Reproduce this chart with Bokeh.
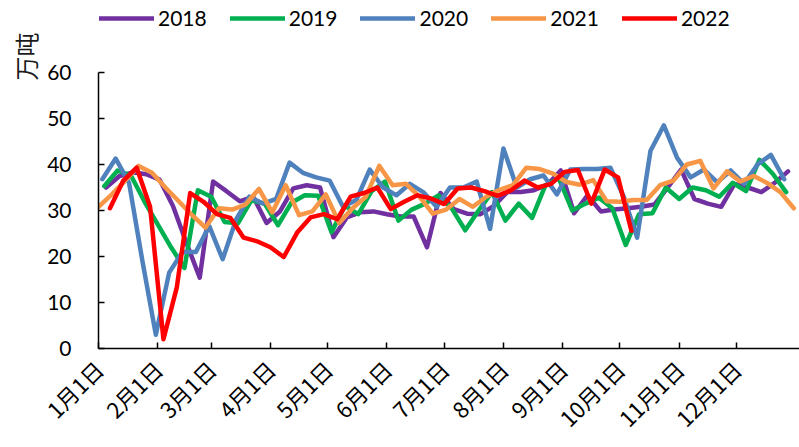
import math
from datetime import date
from bokeh.plotting import figure
from bokeh.models import Range1d, FixedTicker, Legend, LegendItem, Title
from bokeh.embed import file_html
from bokeh.resources import INLINE

# ---- data (weekly, 万吨) ----
years = ["2018", "2019", "2020", "2021", "2022"]
start_dates = ["2018-01-05", "2019-01-04", "2020-01-03", "2021-01-01", "2022-01-07"]
colors = ["#7030A0", "#00B050", "#4F81BD", "#F79646", "#FF0000"]

v2018 = [35, 37.5, 38.3, 37.9, 36.7, 31, 23, 15.4, 36.3, 34.2, 32, 33, 27.3, 29.8,
         34.8, 35.5, 35, 24.2, 28.5, 29.6, 29.8, 29.2, 28.7, 28.7, 22, 33.8, 30.3,
         29.3, 29.2, 31, 34, 34, 34.4, 35.6, 38.7, 29.4, 33.3, 29.8, 30.2, 30.5, 30.8,
         31.3, 35, 38.9, 32.5, 31.5, 30.8, 35.8, 35, 34, 36, 38.5]
v2019 = [35.3, 38.7, 37.6, 32, 27, 22, 17.5, 34.4, 33, 27.5, 27.2, 32.2, 31.5, 26.8,
         31.7, 33.3, 33.2, 25.3, 31, 29.2, 34.2, 36.3, 27.8, 30.2, 31.5, 33.3, 30.4,
         25.7, 30, 34, 27.8, 31.5, 28.4, 35.5, 37, 30, 31.5, 32.8, 30.5, 22.5, 29.2,
         29.4, 35, 32.5, 35, 34.4, 33, 36, 34.2, 41, 38, 34]
v2020 = [36.8, 41.3, 36, 19, 3, 16.5, 21, 21, 26.6, 19.4, 28, 33, 31.5, 32.5, 40.4,
         38.2, 37.2, 36.5, 30.8, 32.3, 38.9, 35, 33.3, 35.8, 34, 30.8, 35, 35, 36.3,
         26, 43.5, 35, 36.8, 37.6, 33.5, 38.9, 39, 39, 39.3, 33, 24.1, 43, 48.5, 41.4,
         37.2, 38.9, 36.1, 38.7, 35.8, 40, 42.1, 36.8]
v2021 = [30.8, 33.5, 36.5, 39.7, 38.2, 35, 32, 29, 26.3, 30.5, 30.2, 31.3, 34.7, 29.6,
         35.5, 29, 29.8, 33.5, 27.3, 30.5, 33, 39.7, 35.5, 35.8, 33, 29.3, 30.2, 32.5,
         30.8, 33, 34.5, 35.5, 39.3, 39, 38, 36.2, 35.6, 36.6, 32, 31.9, 32.3, 32.3,
         35.5, 36.5, 40, 40.8, 34.8, 38.5, 36.3, 37.5, 36, 34, 30.5]
v2022 = [30.5, 36.5, 39.3, 30.8, 2.0, 13.3, 33.8, 31.9, 29.2, 28.4, 24.1, 23.3, 22,
         19.9, 25.2, 28.5, 29.2, 28.1, 33, 33.8, 35, 30.3, 31.9, 33.3, 32.6, 31.4,
         34.8, 35, 34.2, 33.2, 34.4, 36.5, 35, 35.8, 38.4, 38.8, 31.5, 38.9, 37.2, 25.6]
series_values = [v2018, v2019, v2020, v2021, v2022]

month_ticks = [0, 31, 59, 90, 120, 151, 181, 212, 243, 273, 304, 334]  # day of year
month_labels = ["1月1日", "2月1日", "3月1日", "4月1日", "5月1日", "6月1日",
                "7月1日", "8月1日", "9月1日", "10月1日", "11月1日", "12月1日"]
y_ticks = [0, 10, 20, 30, 40, 50, 60]
y_unit = "万吨"

LATIN = "Lato"
CJK = "Noto Sans CJK SC"

# The frame reaches the top of the canvas so the legend (drawn inside it) stays
# visible; the y axis itself is bounded to 0..60.
FRAME_H = 348          # frame height in px (canvas minus the x-axis panel)
Y_MAX_AXIS = 60
Y_VIEW_TOP = Y_MAX_AXIS * FRAME_H / (FRAME_H - 72)

p = figure(width=799, height=447, output_backend="svg", toolbar_location=None,
           x_range=Range1d(0, 367), y_range=Range1d(0, Y_VIEW_TOP),
           min_border_left=98, min_border_right=0, min_border_top=0,
           min_border_bottom=91)
p.outline_line_color = None
p.xgrid.grid_line_color = None
p.ygrid.grid_line_color = None
p.background_fill_color = "white"
p.border_fill_color = "white"

renderers = []
for yr, sd, col, vals in zip(years, start_dates, colors, series_values):
    d = date.fromisoformat(sd)
    doy = (d - date(d.year, 1, 1)).days
    xs = [doy + 7 * i for i in range(len(vals))]
    r = p.line(xs, vals, line_color=col, line_width=4.5,
               line_join="round", line_cap="round")
    renderers.append((yr, r))

# axes
for ax in (p.xaxis[0], p.yaxis[0]):
    ax.axis_line_color = "black"
    ax.axis_line_width = 1.5
    ax.major_tick_line_color = "black"
    ax.major_tick_line_width = 1.5
    ax.major_tick_in = 6
    ax.major_tick_out = 0
    ax.minor_tick_line_color = None
    ax.major_label_text_color = "black"

p.xaxis.ticker = FixedTicker(ticks=month_ticks)
p.xaxis.major_label_overrides = {t: l for t, l in zip(month_ticks, month_labels)}
p.xaxis.major_label_orientation = math.pi / 4
p.xaxis.major_label_text_font = CJK
p.xaxis.major_label_text_font_size = "22px"
p.xaxis.major_label_standoff = 16

p.yaxis.ticker = FixedTicker(ticks=y_ticks)
p.yaxis.bounds = (0, Y_MAX_AXIS)
p.yaxis.major_label_text_font = LATIN
p.yaxis.major_label_text_font_size = "21px"
p.yaxis.major_label_standoff = 27

legend = Legend(items=[LegendItem(label=yr, renderers=[r]) for yr, r in renderers],
                orientation="horizontal", location=(1, FRAME_H - 30),
                glyph_width=55, glyph_height=20, label_height=20,
                label_standoff=4, spacing=23,
                padding=0, margin=0, label_text_font=LATIN,
                label_text_font_size="21px", label_text_color="black",
                background_fill_alpha=0, border_line_color=None)
p.add_layout(legend)

# unit label (rotated) near the top of the y axis
p.add_layout(Title(text=y_unit, align="right", offset=32, standoff=0,
                   vertical_align="top",
                   text_font=CJK, text_font_size="24px",
                   text_font_style="normal", text_color="#1a1a1a"), "left")

open("out.html", "w").write(file_html(p, INLINE))
